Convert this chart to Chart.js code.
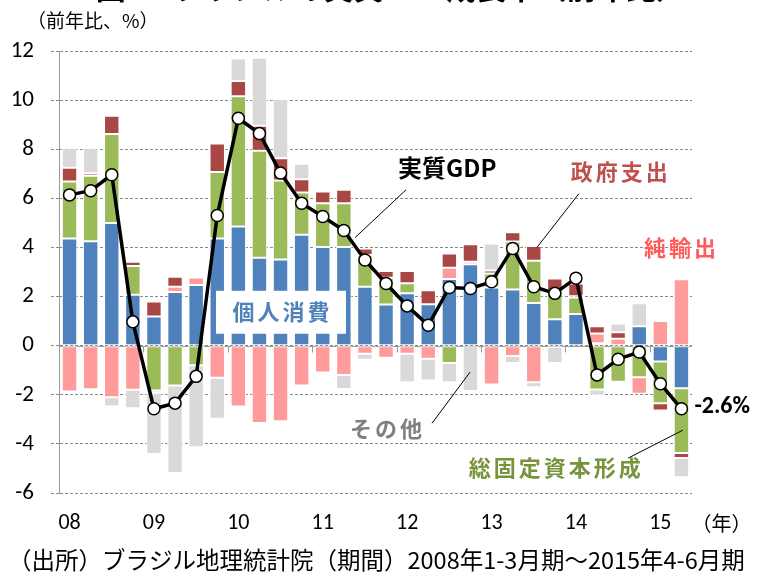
<!DOCTYPE html>
<html><head><meta charset="utf-8">
<script src="https://cdn.jsdelivr.net/npm/chart.js@4.4.1/dist/chart.umd.min.js"></script>
<style>html,body{margin:0;padding:0;background:#fff;overflow:hidden}</style>
</head><body>
<canvas id="c" width="757" height="576" style="display:block;width:757px;height:576px"></canvas>
<script>
// ---- data (year-on-year contribution, %) ----
const quarters = [
  '2008Q1','2008Q2','2008Q3','2008Q4','2009Q1','2009Q2','2009Q3','2009Q4',
  '2010Q1','2010Q2','2010Q3','2010Q4','2011Q1','2011Q2','2011Q3','2011Q4',
  '2012Q1','2012Q2','2012Q3','2012Q4','2013Q1','2013Q2','2013Q3','2013Q4',
  '2014Q1','2014Q2','2014Q3','2014Q4','2015Q1','2015Q2'];
const yearLabels = ['08','09','10','11','12','13','14','15'];
const yTicks = [12,10,8,6,4,2,0,-2,-4,-6];
const consumption = [4.36,4.25,5.00,2.07, 1.19,2.19,2.47,4.36, 4.85,3.58,3.51,4.52, 4.02,4.02,2.40,1.68, 2.13,1.69,2.72,3.32, 2.37,2.29,1.74,1.08, 1.29,0.10,0,0.79, -0.64,-1.73];
const investment  = [2.33,2.67,3.62,1.17, -1.83,-1.62,-0.80,2.71, 5.31,4.36,3.22,1.72, 1.78,1.78,1.29,1.09, 0.41,0,-0.71,0, 0.57,1.95,1.72,1.11, 0.67,-1.79,-1.47,-1.29, -1.70,-2.64];
const netExports  = [-1.87,-1.77,-2.10,-1.80, -0.09,0.21,0.31,-1.31, -2.48,-3.15,-3.08,-1.62, -1.09,-1.19,-0.33,-0.49, -0.33,-0.53,0.45,0.10, -1.58,-0.42,-1.49,-0.05, 0.05,0.40,0.28,-0.67, 1.00,2.70];
const government  = [0.56,0.10,0.74,0.18, 0.61,0.41,0,1.16, 0.62,1.02,0.90,0.54, 0.48,0.55,0.27,0.27, 0.50,0.57,0.58,0.71, 0.12,0.38,0.60,0.55, 0.52,0.29,0.27,0, -0.30,-0.20];
const others      = [0.79,1.02,-0.38,-0.75, -2.49,-3.57,-3.34,-1.67, 0.91,2.77,2.42,0.63, 0,-0.57,-0.24,0, -1.16,-0.89,-0.78,-1.85, 1.10,-0.29,-0.20,-0.66, 0,-0.23,0.35,0.94, 0,-0.79];
const realGDP     = [6.14,6.31,6.96,0.97, -2.57,-2.34,-1.25,5.30, 9.26,8.64,7.03,5.80, 5.26,4.69,3.49,2.53, 1.62,0.83,2.37,2.33, 2.60,3.96,2.40,2.13, 2.75,-1.19,-0.55,-0.26, -1.55,-2.57];
const lastLabel = '-2.6%';

// ---- styles ----
const C = {blue:'#4F81BD', green:'#9BBB59', pink:'#FF9B9B', red:'#A94744', gray:'#D9D9D9'};
const CJK = '"Noto Sans CJK JP", "Noto Sans", sans-serif';
const NUM = 'Carlito, "Liberation Sans Narrow", Lato, sans-serif';

// annotation anchors in data coordinates (category index, value)
const notes = [
  {text:'実質GDP', color:'#000000', i:17.9, v:7.25, line:[15.95,6.35,13.53,4.4]},
  {text:'政府支出', color:'#C0504D', i:26.05, v:7.1, line:[24.14,6.19,22.15,4.0]},
  {text:'純輸出', color:'#FF5B5B', i:28.93, v:4.0},
  {text:'個人消費', color:'#4F81BD', i:10.02, v:1.38, box:true},
  {text:'その他', color:'#808080', i:15.0, v:-3.36, line:[17.18,-3.16,18.98,-1.08]},
  {text:'総固定資本形成', color:'#77933C', i:23.0, v:-4.95, line:[26.47,-4.58,29.07,-3.44]}
];

function bar(label, data, color){
  return {type:'bar', label, data, backgroundColor:color, borderColor:'#ffffff',
    borderWidth:1, borderSkipped:false, barPercentage:0.73, categoryPercentage:1,
    stack:'parts', order:1};
}

const overlay = {
  id:'overlay',
  beforeDatasetsDraw(chart){
    const {ctx, chartArea:a, scales:{x,y}} = chart;
    const y0 = Math.round(y.getPixelForValue(0)) + 0.5;
    ctx.save();
    ctx.strokeStyle = '#9a9a9a'; ctx.lineWidth = 1; ctx.setLineDash([]);
    ctx.beginPath();
    ctx.moveTo(a.left, y0); ctx.lineTo(a.right, y0);
    for (let i = 4; i < quarters.length; i += 4){
      const px = Math.round(x.getPixelForValue(i - 0.5)) + 0.5;
      ctx.moveTo(px, y0); ctx.lineTo(px, y0 + 6);
    }
    ctx.stroke();
    ctx.restore();
  },
  afterDatasetsDraw(chart){
    const {ctx, scales:{x,y}} = chart;
    ctx.save();
    ctx.textAlign = 'center'; ctx.textBaseline = 'middle';
    for (const n of notes){
      const px = x.getPixelForValue(n.i), py = y.getPixelForValue(n.v);
      if (n.line){
        ctx.strokeStyle = '#000'; ctx.lineWidth = 1;
        ctx.beginPath();
        ctx.moveTo(x.getPixelForValue(n.line[0]), y.getPixelForValue(n.line[1]));
        ctx.lineTo(x.getPixelForValue(n.line[2]), y.getPixelForValue(n.line[3]));
        ctx.stroke();
      }
      if (n.box){
        ctx.fillStyle = '#ffffff';
        ctx.fillRect(px - 65, py - 21, 130, 43);
      }
      const isGdp = n.text === '実質GDP';
      ctx.font = isGdp ? 'bold 24px ' + CJK : 'bold 22px ' + CJK;
      ctx.letterSpacing = isGdp ? '0px' : '3px';
      ctx.fillStyle = n.color;
      ctx.fillText(n.text, px + (isGdp ? 0 : 1.5), py);
    }
    ctx.letterSpacing = '0px';
    // last GDP value label
    const li = quarters.length - 1;
    ctx.font = 'bold 24px ' + NUM;
    ctx.fillStyle = '#000'; ctx.textAlign = 'left';
    ctx.fillText(lastLabel, x.getPixelForValue(li) + 13, y.getPixelForValue(realGDP[li]) - 2);
    ctx.restore();
  },
  afterDraw(chart){
    const {ctx, scales:{x}} = chart;
    ctx.save();
    ctx.fillStyle = '#000';
    // main title (cut off at top edge)
    ctx.font = 'bold 30px ' + CJK; ctx.textAlign = 'center'; ctx.textBaseline = 'alphabetic';
    ctx.fillText('図3　ブラジルの実質GDP成長率（前年比）', 391, -1);
    // unit
    ctx.font = '19px ' + CJK; ctx.textAlign = 'left'; ctx.textBaseline = 'middle';
    ctx.fillText('（前年比、%）', 27, 21);
    // year unit
    ctx.font = '20px ' + CJK; ctx.textAlign = 'center';
    ctx.fillText('（年）', x.getPixelForValue(30.9), 523);
    // source
    ctx.font = '23.5px ' + CJK; ctx.textAlign = 'left';
    ctx.fillText('（出所）ブラジル地理統計院（期間）2008年1-3月期～2015年4-6月期', 8, 560, 738);
    ctx.restore();
  }
};

new Chart(document.getElementById('c'), {
  data:{
    labels: quarters,
    datasets:[
      {type:'line', label:'実質GDP', data:realGDP, borderColor:'#000', borderWidth:3.5,
       pointRadius:6, pointBackgroundColor:'#fff', pointBorderColor:'#000', pointBorderWidth:1.5,
       tension:0, stack:'gdp', order:0},
      bar('個人消費', consumption, C.blue),
      bar('総固定資本形成', investment, C.green),
      bar('純輸出', netExports, C.pink),
      bar('政府支出', government, C.red),
      bar('その他', others, C.gray)
    ]
  },
  options:{
    responsive:false, animation:false, devicePixelRatio:1,
    layout:{padding:{left:0, right:65, top:51, bottom:0}},
    plugins:{legend:{display:false}, tooltip:{enabled:false}, title:{display:false}},
    scales:{
      x:{stacked:true, offset:true,
        grid:{display:false, drawTicks:false}, border:{display:false},
        ticks:{autoSkip:false, maxRotation:0, padding:17, color:'#000',
          font:{family:NUM, size:22},
          callback:(v,i)=> i % 4 === 0 ? yearLabels[i/4] : ''},
        afterFit:(s)=>{ s.height = 83; }
      },
      y:{stacked:true, min:-6, max:12,
        afterBuildTicks:(s)=>{ s.ticks = yTicks.map(v=>({value:v})); },
        grid:{color:'#8a8a8a', lineWidth:1, tickLength:8, tickColor:'#8a8a8a', tickBorderDash:[3,2]},
        border:{display:true, color:'#9a9a9a', width:1, dash:[3,2]},
        ticks:{padding:17, color:'#000', font:{family:NUM, size:23}},
        afterFit:(s)=>{ s.width = 59; }
      }
    }
  },
  plugins:[overlay]
});
</script>
</body></html>
